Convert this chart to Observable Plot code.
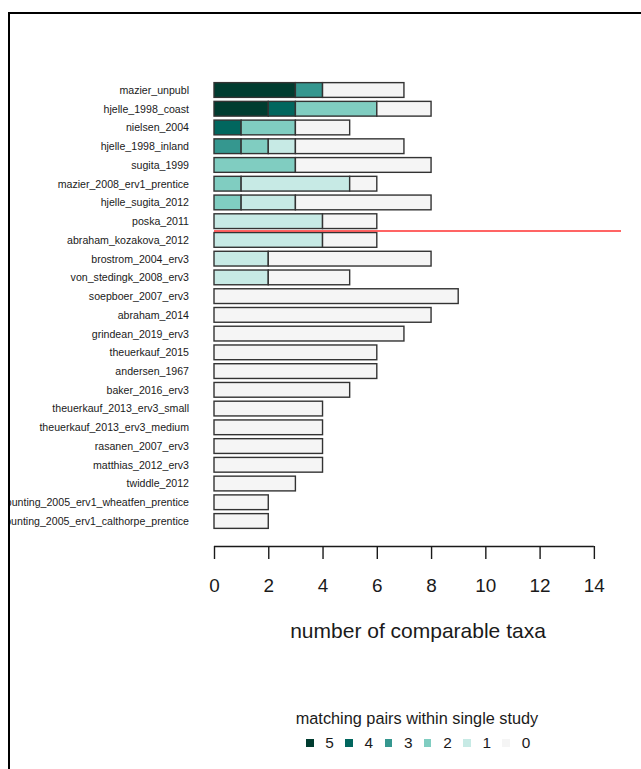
<!DOCTYPE html>
<html>
<head>
<meta charset="utf-8">
<script src="https://cdn.jsdelivr.net/npm/d3@7"></script>
<script src="https://cdn.jsdelivr.net/npm/@observablehq/plot@0.6"></script>
<style>
  html, body { margin: 0; padding: 0; background: #fff; overflow: hidden; }
  #frame {
    position: absolute; left: 8px; top: 12px; width: 633px; height: 757px;
    border-top: 2px solid #000; border-left: 2px solid #000;
    box-sizing: border-box; overflow: hidden;
  }
  #page {
    position: absolute; left: -10px; top: -14px; width: 641px; height: 769px;
    font-family: "Liberation Sans", Arial, sans-serif; color: #1a1a1a;
  }
  #chart svg { max-width: none; display: block; }
  #legend-title {
    position: absolute; left: 417px; top: 708px; transform: translateX(-50%);
    white-space: nowrap; font-size: 16.3px; line-height: 20px;
  }
  #legend-keys {
    position: absolute; left: 306px; top: 733px; display: flex;
    font-size: 15.4px; line-height: 20px;
  }
  .key { display: flex; align-items: center; width: 39.3px; }
  .key i { display: block; width: 7.5px; height: 7.5px; margin-right: 11.8px; }
</style>
</head>
<body>
<div id="frame">
  <div id="page">
    <div id="chart"></div>
    <div id="legend-title">matching pairs within single study</div>
    <div id="legend-keys"></div>
  </div>
</div>
<script>
// Studies, top to bottom
const studies = [
  "mazier_unpubl", "hjelle_1998_coast", "nielsen_2004", "hjelle_1998_inland",
  "sugita_1999", "mazier_2008_erv1_prentice", "hjelle_sugita_2012", "poska_2011",
  "abraham_kozakova_2012", "brostrom_2004_erv3", "von_stedingk_2008_erv3",
  "soepboer_2007_erv3", "abraham_2014", "grindean_2019_erv3", "theuerkauf_2015",
  "andersen_1967", "baker_2016_erv3", "theuerkauf_2013_erv3_small",
  "theuerkauf_2013_erv3_medium", "rasanen_2007_erv3", "matthias_2012_erv3",
  "twiddle_2012", "bunting_2005_erv1_wheatfen_prentice",
  "bunting_2005_erv1_calthorpe_prentice"
];

// Number of comparable taxa per study, split by matching pairs within the study
const levels = [5, 4, 3, 2, 1, 0];
const n5 = [3, 2, 0, 0, 0, 0, 0, 0, 0, 0, 0, 0, 0, 0, 0, 0, 0, 0, 0, 0, 0, 0, 0, 0];
const n4 = [0, 1, 1, 0, 0, 0, 0, 0, 0, 0, 0, 0, 0, 0, 0, 0, 0, 0, 0, 0, 0, 0, 0, 0];
const n3 = [1, 0, 0, 1, 0, 0, 0, 0, 0, 0, 0, 0, 0, 0, 0, 0, 0, 0, 0, 0, 0, 0, 0, 0];
const n2 = [0, 3, 2, 1, 3, 1, 1, 0, 0, 0, 0, 0, 0, 0, 0, 0, 0, 0, 0, 0, 0, 0, 0, 0];
const n1 = [0, 0, 0, 1, 0, 4, 2, 4, 4, 2, 2, 0, 0, 0, 0, 0, 0, 0, 0, 0, 0, 0, 0, 0];
const n0 = [3, 2, 2, 4, 5, 1, 5, 2, 2, 6, 3, 9, 8, 7, 6, 6, 5, 4, 4, 4, 4, 3, 2, 2];

const palette = ["#003c30", "#01665e", "#35978f", "#80cdc1", "#c7eae5", "#f5f5f5"];
const xTicks = [0, 2, 4, 6, 8, 10, 12, 14];

// Row-index extent of the plotting region and the divider between study groups
const rowTop = -1.601;
const rowBottom = 24.334;
const divider = 7.5;

// Stack each study's counts left to right, highest level first
const counts = {5: n5, 4: n4, 3: n3, 2: n2, 1: n1, 0: n0};
const segments = [];
studies.forEach((study, row) => {
  let x = 0;
  for (const level of levels) {
    const c = counts[level][row];
    if (c > 0) {
      segments.push({study, row, level, x1: x, x2: x + c});
      x += c;
    }
  }
});

const chart = Plot.plot({
  width: 641,
  height: 680,
  marginLeft: 214,
  marginRight: 20,
  marginTop: 60,
  marginBottom: 134,
  style: {fontFamily: "'Liberation Sans', Arial, sans-serif", color: "#1a1a1a", background: "transparent"},
  x: {domain: [0, 15]},
  y: {domain: [rowTop, rowBottom], reverse: true},
  color: {type: "ordinal", domain: levels, range: palette},
  marks: [
    Plot.rect(segments, {
      x1: "x1", x2: "x2",
      y1: d => d.row - 0.5, y2: d => d.row + 0.5,
      insetTop: 2, insetBottom: 2,
      fill: "level", stroke: "#333", strokeWidth: 1.4
    }),
    Plot.ruleY([divider], {stroke: "#ff3030", strokeWidth: 1.5}),
    Plot.ruleY([{y: rowBottom, x1: xTicks[0], x2: xTicks[xTicks.length - 1]}],
      {y: "y", x1: "x1", x2: "x2", stroke: "#1a1a1a", strokeWidth: 1.4}),
    Plot.axisX({ticks: xTicks, tickSize: 13, tickPadding: 19, fontSize: 18.9, label: null, strokeWidth: 1.4}),
    Plot.axisY({
      ticks: d3.range(studies.length), tickFormat: i => studies[i],
      tickSize: 0, tickPadding: 25.5, fontSize: 10.6, label: null
    }),
    Plot.text(["number of comparable taxa"], {text: d => d, frameAnchor: "bottom", dy: 91, fontSize: 21})
  ]
});
document.getElementById("chart").appendChild(chart);

// Legend keys drawn from the chart's color scale
const colorScale = chart.scale("color");
const keys = document.getElementById("legend-keys");
colorScale.domain.forEach((level, i) => {
  const item = document.createElement("div");
  item.className = "key";
  const sw = document.createElement("i");
  sw.style.background = colorScale.range[i];
  item.appendChild(sw);
  item.appendChild(document.createTextNode(String(level)));
  keys.appendChild(item);
});
</script>
</body>
</html>
